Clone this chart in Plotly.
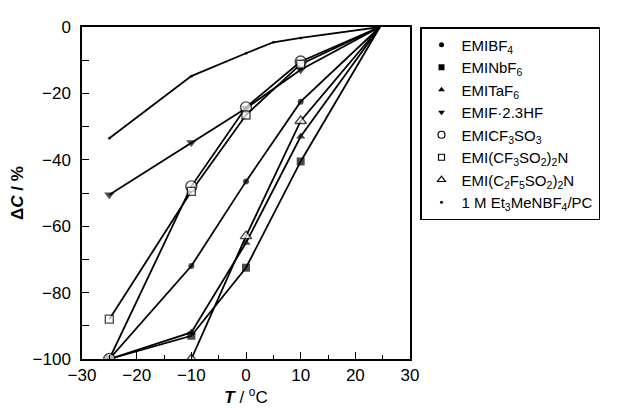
import plotly.graph_objects as go

# Temperatures (deg C)
T_main = [-25, -10, 0, 10, 24.5]
T_c2f5 = [-10, 0, 10, 24.5]
T_pc = [-25, -10, 0, 5, 10, 24.5]

# Capacitance change (%)
emibf4 = [-100, -72, -46.5, -22.5, 0]
eminbf6 = [-100, -93, -72.5, -40.5, 0]
emitaf6 = [-100, -92, -65, -33, 0]
emif_hf = [-50.5, -34.8, -24.5, -12.9, 0]
emicf3so3 = [-100, -48, -24.2, -10.4, 0]
emi_cf3so2n = [-88, -49.5, -26.5, -11.2, 0]
emi_c2f5so2n = [-100, -63, -28.3, 0]
pc_ref = [-33.5, -14.8, -7.9, -4.6, -3.3, 0]

names = ["EMIBF<sub>4</sub>", "EMINbF<sub>6</sub>", "EMITaF<sub>6</sub>", "EMIF·2.3HF",
         "EMICF<sub>3</sub>SO<sub>3</sub>", "EMI(CF<sub>3</sub>SO<sub>2</sub>)<sub>2</sub>N",
         "EMI(C<sub>2</sub>F<sub>5</sub>SO<sub>2</sub>)<sub>2</sub>N",
         "1 M Et<sub>3</sub>MeNBF<sub>4</sub>/PC"]

series = [
    (T_main, emibf4, "circle", "black", 6, 5),
    (T_main, eminbf6, "square", "black", 8, 6),
    (T_main, emitaf6, "triangle-up", "black", 8, 6),
    (T_main, emif_hf, "triangle-down", "black", 9, 6),
    (T_main, emicf3so3, "circle", "white", 11, 7),
    (T_main, emi_cf3so2n, "square", "white", 8, 6),
    (T_c2f5, emi_c2f5so2n, "triangle-up", "white", 10, 7),
    (T_pc, pc_ref, "circle", "black", 3, 3),
]

fig = go.Figure()
for x, y, sym, col, sz, lsz in series:
    fig.add_trace(go.Scatter(x=x, y=y, mode="lines", showlegend=False,
                             line=dict(color="black", width=1.8), hoverinfo="skip"))
for (x, y, sym, col, sz, lsz) in series:
    sizes = [sz] * (len(x) - 1) + [0]  # the 25 degC reference point carries no symbol
    fig.add_trace(go.Scatter(x=x, y=y, mode="markers", showlegend=False,
                             marker=dict(symbol=sym, size=sizes, color=col,
                                         line=dict(color="black", width=1.4 if col == "white" else 0))))
for name, (x, y, sym, col, sz, lsz) in zip(names, series):
    fig.add_trace(go.Scatter(x=[None], y=[None], mode="markers", name=name,
                             marker=dict(symbol=sym, size=lsz, color=col,
                                         line=dict(color="black", width=1.2 if col == "white" else 0))))

font = "Liberation Sans, Arial, sans-serif"
fig.update_layout(
    width=624, height=408,
    margin=dict(l=74, r=222, t=19, b=57, autoexpand=False),
    paper_bgcolor="white", plot_bgcolor="white",
    font=dict(family=font, size=17, color="black"),
    showlegend=True,
    legend=dict(x=1.0305, y=1, xanchor="left", yanchor="top",
                bordercolor="black", borderwidth=1.5, bgcolor="white",
                entrywidth=165, entrywidthmode="pixels",
                font=dict(family=font, size=15, color="black"), tracegroupgap=0),
    xaxis=dict(range=[-30, 30], tickvals=[-30, -20, -10, 0, 10, 20, 30],
               ticks="inside", ticklen=7, tickwidth=1.2, tickcolor="black",
               minor=dict(dtick=5, ticks="inside", ticklen=4, tickwidth=1.2, tickcolor="black"),
               showline=True, mirror=True, linecolor="black", linewidth=1.5,
               showgrid=False, zeroline=False, tickfont=dict(size=17), automargin=False,
               title=dict(text="<b><i>T</i></b> / <sup>o</sup>C", standoff=5,
                          font=dict(size=17))),
    yaxis=dict(range=[-100, 0], tickvals=[0, -20, -40, -60, -80, -100],
               ticks="inside", ticklen=7, tickwidth=1.2, tickcolor="black",
               minor=dict(dtick=10, ticks="inside", ticklen=7, tickwidth=1.2, tickcolor="black"),
               showline=True, mirror=True, linecolor="black", linewidth=1.5,
               showgrid=False, zeroline=False, tickfont=dict(size=17), automargin=False,
               ticklabelstandoff=6,
               title=dict(text="<b>Δ<i>C</i> / %</b>", standoff=6, font=dict(size=17))),
)

fig.write_html("out.html")
